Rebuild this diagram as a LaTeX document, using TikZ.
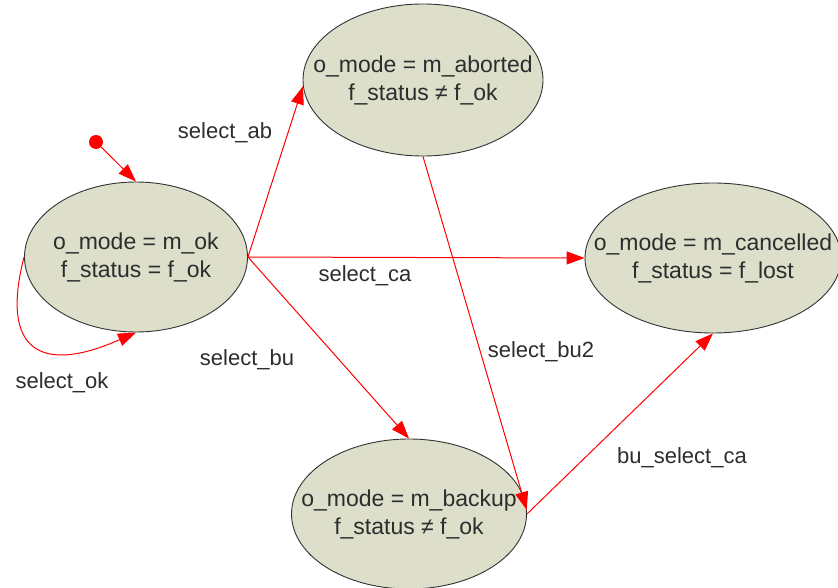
\documentclass[tikz,border=0pt]{standalone}
\usepackage{fontspec}
\setmainfont{Liberation Sans}
\usetikzlibrary{shapes.geometric,arrows.meta}
\definecolor{statefill}{RGB}{221,223,203}
\definecolor{inktext}{RGB}{45,45,45}
\tikzset{
  state/.style={ellipse, draw=black!80, line width=0.9pt, fill=statefill,
    inner sep=0pt},
  statetext/.style={align=center, text=inktext, inner sep=0pt,
    font=\fontsize{23}{28}\selectfont},
  trans/.style={draw=red, line width=1pt,
    -{Triangle[length=18pt,width=13pt]}},
  tlabel/.style={text=inktext, font=\fontsize{22}{26}\selectfont, inner sep=0pt}
}
\begin{document}
\begin{tikzpicture}[x=1pt,y=-1pt]
\useasboundingbox (0,0) rectangle (838,588);
\fill[white] (0,0) rectangle (838,588);

% states: fixed-size ellipses with their texts laid over the centre
\node[state, minimum width=223pt, minimum height=150pt,
  label={[statetext]center:o\_mode = m\_ok\\f\_status = f\_ok}] (ok) at (136,257) {};
\node[state, minimum width=240pt, minimum height=152pt,
  label={[statetext]center:o\_mode = m\_aborted\\f\_status ≠ f\_ok}] (ab) at (423,80) {};
\node[state, minimum width=256pt, minimum height=150pt,
  label={[statetext]center:o\_mode = m\_cancelled\\f\_status = f\_lost}] (ca) at (713,258) {};
\node[state, minimum width=235pt, minimum height=150pt,
  label={[statetext]center:o\_mode = m\_backup\\f\_status ≠ f\_ok}] (bu) at (409,514) {};

% initial state
\node[circle, fill=red, inner sep=0pt, minimum size=14pt] (init) at (96,142) {};
\draw[trans] (init) -- (ok.north);

% transitions
\draw[trans] (ok.180) .. controls (0,350) and (40,375) .. (ok.-90);
\draw[trans] (ok.east) -- (ab.183);
\draw[trans] (ok.east) -- (ca.west);
\draw[trans] (ok.east) -- (bu.north);
\draw[trans] (ab.south) -- (bu.2);
\draw[trans] (bu.east) -- (ca.south);

% transition labels
\node[tlabel] (lok) at (62,383) {select\_ok};
\node[tlabel] (lab) at (225,133) {select\_ab};
\node[tlabel] (lca) at (365,276) {select\_ca};
\node[tlabel] (lbu) at (247,360) {select\_bu};
\node[tlabel] (lbu2) at (541,352) {select\_bu2};
\node[tlabel] (lbuca) at (682,458) {bu\_select\_ca};
\end{tikzpicture}
\end{document}
